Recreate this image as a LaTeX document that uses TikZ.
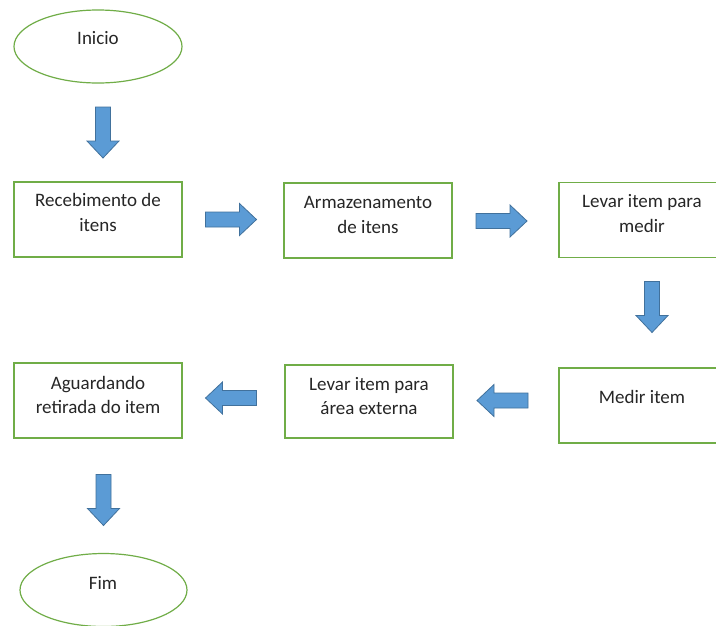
\documentclass[tikz,border=0pt]{standalone}
\usepackage{fontspec}
\setmainfont{Carlito}
\usetikzlibrary{calc,shapes.geometric}
\definecolor{boxgreen}{HTML}{70AD47}
\definecolor{arrowfill}{HTML}{5B9BD5}
\definecolor{arrowline}{HTML}{41719C}
\definecolor{txtcol}{HTML}{262626}
\tikzset{
  stepbox/.style={draw=boxgreen, line width=1pt, fill=white, rectangle,
    minimum width=126pt, minimum height=56.25pt, inner sep=0pt},
  termbox/.style={draw=boxgreen, line width=0.9pt, fill=white, ellipse,
    minimum width=126pt, minimum height=54.75pt, inner sep=0pt},
  lbl/.style={text=txtcol, align=center, inner sep=0pt,
    font=\fontsize{14.25pt}{18.5pt}\selectfont},
  blockarrow/.style={fill=arrowfill, draw=arrowline, line width=0.6pt, line join=miter}
}
\newcommand{\blockarr}[3]{%
  \draw[blockarrow, shift={(#1,#2)}, rotate=#3]
    (0,-7.5) -- (34,-7.5) -- (34,-16) -- (51,0) -- (34,16) -- (34,7.5) -- (0,7.5) -- cycle;}
\begin{document}
\begin{tikzpicture}[x=0.75pt, y=-0.75pt]
  \useasboundingbox (0,0) rectangle (716,625);
  \clip (0,0) rectangle (716,625);
  \fill[white] (0,0) rectangle (716,625);
  % terminals
  \node[termbox] (e1) at (98,46.5) {};
  \node[termbox, minimum width=125.25pt] (e2) at (103.5,590) {};
  % process boxes
  \node[stepbox] (b1) at (98,219.5) {};
  \node[stepbox] (b2) at (368,220.5) {};
  \node[stepbox] (b3) at (643,220) {};
  \node[stepbox] (b4) at (643,405.5) {};
  \node[stepbox, minimum height=54.75pt] (b5) at (369,401.5) {};
  \node[stepbox] (b6) at (98,400.5) {};
  % labels
  \node[lbl] (t1) at (98,38) {Inicio};
  \node[lbl] (t2) at (98,212.5) {Recebimento de\\itens};
  \node[lbl] (t3) at (368,215) {Armazenamento\\de itens};
  \node[lbl] (t4) at (642,213.5) {Levar item para\\medir};
  \node[lbl] (t5) at (642,397) {Medir item};
  \node[lbl] (t6) at (369,396) {Levar item para\\área externa};
  \node[lbl] (t7) at (98,395) {Aguardando\\retirada do item};
  \node[lbl] (t8) at (103,583) {Fim};
  % block arrows
  \blockarr{103}{107}{-90}
  \blockarr{205.5}{219.5}{0}
  \blockarr{476}{221}{0}
  \blockarr{652}{281.5}{-90}
  \blockarr{528}{400.5}{180}
  \blockarr{256.5}{398}{180}
  \blockarr{103.5}{474.5}{-90}
\end{tikzpicture}
\end{document}
